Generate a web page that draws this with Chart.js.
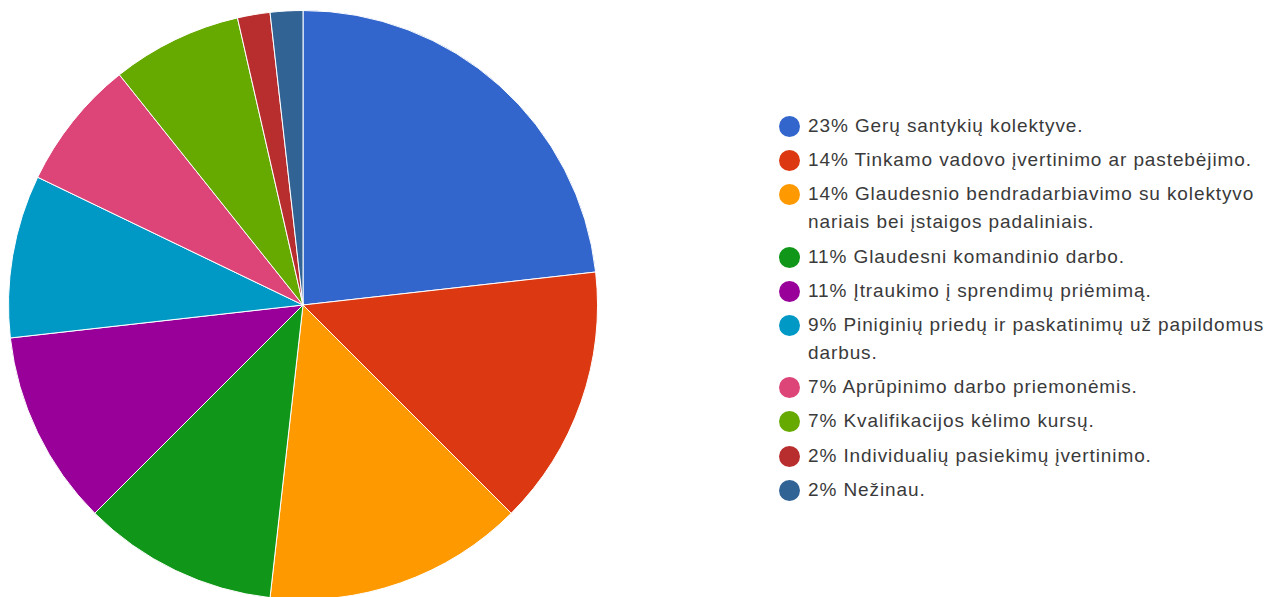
<!DOCTYPE html>
<html>
<head>
<meta charset="utf-8">
<script src="https://cdn.jsdelivr.net/npm/chart.js@4"></script>
<style>
  html, body { margin: 0; padding: 0; background: #fff; width: 1283px; height: 597px; overflow: hidden; }
  #pieBox { position: absolute; left: 8px; top: 10px; width: 590px; height: 590px; }
  #legend { position: absolute; left: 779px; top: 112px; font-family: "Liberation Sans", Arial, sans-serif; font-size: 19px; letter-spacing: 0.9px; color: #3a3a3a; }
  .item { position: relative; padding-left: 29px; line-height: 28px; margin-bottom: 6.2px; white-space: nowrap; }
  .dot { position: absolute; left: 0; top: 4px; width: 21px; height: 21px; border-radius: 50%; }
</style>
</head>
<body>
<div id="pieBox"><canvas id="pie"></canvas></div>
<div id="legend"></div>
<script>
// answers (counts)
var answers = [
    "Gerų santykių kolektyve.",
    "Tinkamo vadovo įvertinimo ar pastebėjimo.",
    "Glaudesnio bendradarbiavimo su kolektyvo|nariais bei įstaigos padaliniais.",
    "Glaudesni komandinio darbo.",
    "Įtraukimo į sprendimų priėmimą.",
    "Piniginių priedų ir paskatinimų už papildomus|darbus.",
    "Aprūpinimo darbo priemonėmis.",
    "Kvalifikacijos kėlimo kursų.",
    "Individualių pasiekimų įvertinimo.",
    "Nežinau."
];
var counts = [13, 8, 8, 6, 6, 5, 4, 4, 1, 1];
var percents = ["23%", "14%", "14%", "11%", "11%", "9%", "7%", "7%", "2%", "2%"];
var sliceColors = ["#3366cc", "#dc3912", "#ff9900", "#109618", "#990099",
                   "#0099c6", "#dd4477", "#66aa00", "#b82e2e", "#316395"];

new Chart("pie", {
    type: "pie",
    data: {
        labels: answers.map(function (a) { return a.replace("|", " "); }),
        datasets: [{
            data: counts,
            backgroundColor: sliceColors,
            borderColor: "#ffffff",
            borderWidth: 1
        }]
    },
    options: {
        responsive: true,
        maintainAspectRatio: false,
        animation: false,
        plugins: {
            legend: { display: false },
            tooltip: { enabled: false }
        }
    }
});

// legend on the right
var legend = document.getElementById("legend");
for (var i = 0; i < answers.length; i++) {
    var item = document.createElement("div");
    item.className = "item";
    var dot = document.createElement("span");
    dot.className = "dot";
    dot.style.background = sliceColors[i];
    item.appendChild(dot);
    var lines = answers[i].split("|");
    lines[0] = percents[i] + " " + lines[0];
    item.appendChild(document.createTextNode(lines[0]));
    for (var j = 1; j < lines.length; j++) {
        item.appendChild(document.createElement("br"));
        item.appendChild(document.createTextNode(lines[j]));
    }
    legend.appendChild(item);
}
</script>
</body>
</html>
